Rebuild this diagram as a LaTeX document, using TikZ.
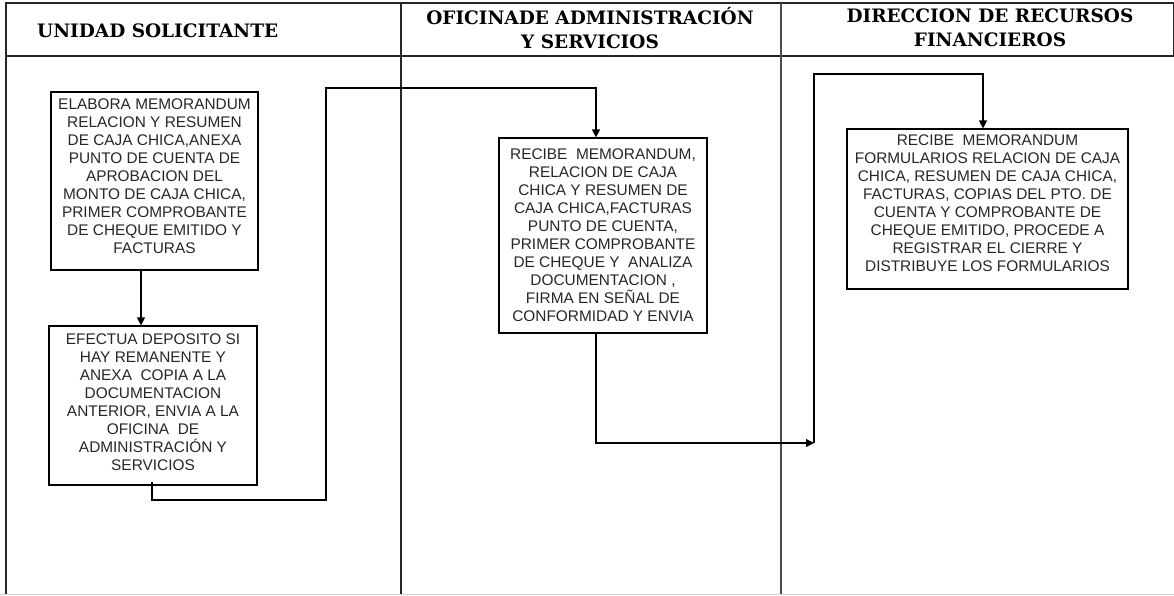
\documentclass[tikz,border=0pt]{standalone}
\usepackage{fontspec}
\setmainfont{Liberation Sans}
\newfontfamily\headfont{DejaVu Serif}
\usetikzlibrary{arrows.meta,calc}
\begin{document}
\begin{tikzpicture}[x=1pt,y=-1pt,
  lane/.style={line width=1.3pt, black!85},
  head/.style={font=\headfont\bfseries\fontsize{18.5}{23.5}\selectfont, align=center, inner sep=0pt},
  stepbox/.style={draw, line width=1.2pt, align=center, inner sep=0pt,
                  font=\fontsize{15.4}{18}\selectfont, text=black!85},
  flow/.style={line width=1.2pt},
  arr/.style={flow, -{Triangle[length=8pt,width=8pt]}}]
\useasboundingbox (0,0) rectangle (1174,595);

% swimlane frame
\draw[lane] (6,595) -- (6,3) -- (1173.4,3) -- (1173.4,56);
\draw[lane] (6,56) -- (1174,56);
\draw[lane] (401,3) -- (401,595);
\draw[lane, black!70] (781,3) -- (781,595);
\draw[gray!35, line width=0.8pt] (0,594.6) -- (1174,594.6);

% lane titles
\node[head, anchor=base west] (h1) at (37,37) {UNIDAD SOLICITANTE};
\node[head] (h2) at (590,28) {OFICINADE ADMINISTRACIÓN\\Y SERVICIOS};
\node[head] (h3) at (990,28) {DIRECCION DE RECURSOS\\FINANCIEROS};

% process steps (a trailing \\[..] lifts the text block a little)
\node[stepbox, minimum width=207pt, minimum height=178pt] (b1) at (154.5,181)
  {ELABORA MEMORANDUM\\RELACION Y RESUMEN\\DE CAJA CHICA,ANEXA\\PUNTO DE CUENTA DE\\APROBACION DEL\\MONTO DE CAJA CHICA,\\PRIMER COMPROBANTE\\DE CHEQUE EMITIDO Y\\FACTURAS\\[-9pt]};
\node[stepbox, minimum width=208pt, minimum height=159pt] (b2) at (153,405.5)
  {EFECTUA DEPOSITO SI\\HAY REMANENTE Y\\ANEXA\ \ COPIA A LA\\DOCUMENTACION\\ANTERIOR, ENVIA A LA\\OFICINA\ \ DE\\ADMINISTRACIÓN Y\\SERVICIOS\\[-11pt]};
\node[stepbox, minimum width=208pt, minimum height=195pt] (b3) at (603,235.5)
  {RECIBE\ \ MEMORANDUM,\\RELACION DE CAJA\\CHICA Y RESUMEN DE\\CAJA CHICA,FACTURAS\\PUNTO DE CUENTA,\\PRIMER COMPROBANTE\\DE CHEQUE Y\ \ ANALIZA\\DOCUMENTACION ,\\FIRMA EN SEÑAL DE\\CONFORMIDAD Y ENVIA};
\node[stepbox, minimum width=281pt, minimum height=160pt] (b4) at (987.5,209)
  {RECIBE\ \ MEMORANDUM\\FORMULARIOS RELACION DE CAJA\\CHICA, RESUMEN DE CAJA CHICA,\\FACTURAS, COPIAS DEL PTO. DE\\CUENTA Y COMPROBANTE DE\\CHEQUE EMITIDO, PROCEDE A\\REGISTRAR EL CIERRE Y\\DISTRIBUYE LOS FORMULARIOS\\[-7pt]};

% routing points
\coordinate (d1) at (326,500);
\coordinate (u1) at (326,88);
\coordinate (j) at (814,443);
\coordinate (u2) at (814,74);

% connectors
\draw[arr] ([xshift=-13.5pt]b1.south) -- ([xshift=-12pt]b2.north);
\draw[arr] ([xshift=-1pt,yshift=4pt]b2.south) |- (d1) -- (u1) -| ([xshift=-7pt]b3.north);
\draw[arr] ([xshift=-7pt]b3.south) |- (j);
\draw[arr] (j) -- (u2) -| ([xshift=-4.5pt]b4.north);
\end{tikzpicture}
\end{document}
